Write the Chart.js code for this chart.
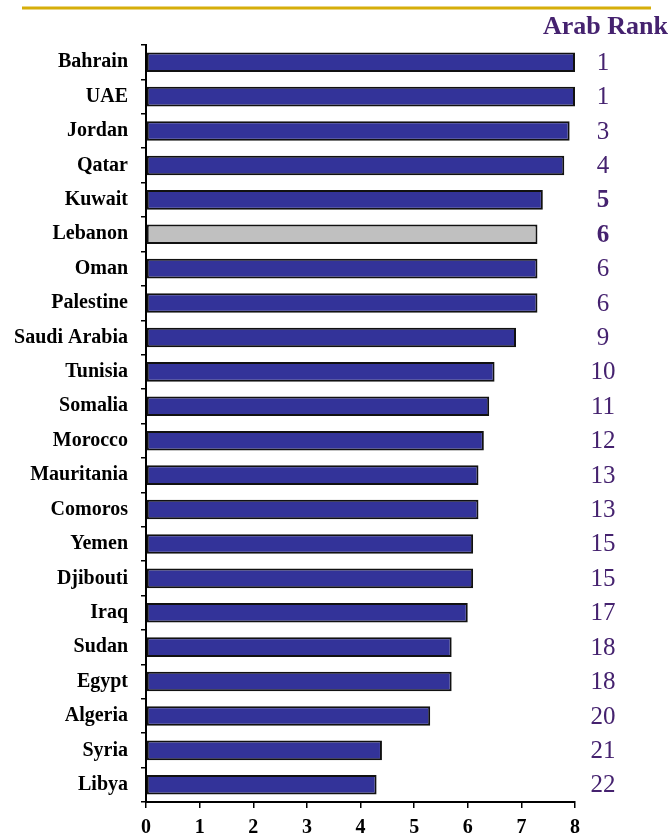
<!DOCTYPE html>
<html>
<head>
<meta charset="utf-8">
<title>Arab Rank</title>
<script src="https://cdn.jsdelivr.net/npm/chart.js@4/dist/chart.umd.min.js"></script>
<style>
    html, body { margin: 0; padding: 0; background: #fff; }
    #wrap { position: relative; width: 670px; height: 834px; }
</style>
</head>
<body>
<div id="wrap"><canvas id="rankChart"></canvas></div>
<script>
const countries = [
    "Bahrain", "UAE", "Jordan", "Qatar", "Kuwait", "Lebanon", "Oman", "Palestine",
    "Saudi Arabia", "Tunisia", "Somalia", "Morocco", "Mauritania", "Comoros",
    "Yemen", "Djibouti", "Iraq", "Sudan", "Egypt", "Algeria", "Syria", "Libya"
];
const scores = [
    8.0, 8.0, 7.9, 7.8, 7.4, 7.3, 7.3, 7.3,
    6.9, 6.5, 6.4, 6.3, 6.2, 6.2,
    6.1, 6.1, 6.0, 5.7, 5.7, 5.3, 4.4, 4.3
];
const arabRank = [
    1, 1, 3, 4, 5, 6, 6, 6,
    9, 10, 11, 12, 13, 13,
    15, 15, 17, 18, 18, 20, 21, 22
];
const boldRows = ["Kuwait", "Lebanon"];
const highlight = "Lebanon";

const serif = "'Liberation Serif', 'Times New Roman', serif";
const purple = "#45226F";

const barFill = countries.map(c => c === highlight ? "#C0C0C0" : "#333399");

// rank column, header and the gold rule along the top
const rankColumn = {
    id: "rankColumn",
    afterDraw(chart) {
        const ctx = chart.ctx;
        const y = chart.scales.y;
        ctx.save();

        ctx.strokeStyle = "#D6AE0A";
        ctx.lineWidth = 3;
        ctx.beginPath();
        ctx.moveTo(22, 8);
        ctx.lineTo(651, 8);
        ctx.stroke();

        ctx.fillStyle = purple;
        ctx.font = "bold 26px " + serif;
        ctx.textAlign = "right";
        ctx.textBaseline = "alphabetic";
        ctx.fillText("Arab Rank", 668, 34);

        ctx.textAlign = "center";
        ctx.textBaseline = "middle";
        countries.forEach((c, i) => {
            const bold = boldRows.includes(c) ? "bold " : "";
            ctx.font = bold + "25px " + serif;
            ctx.fillText(String(arabRank[i]), 603, y.getPixelForValue(i) + 1);
        });
        ctx.restore();
    }
};

new Chart(document.getElementById("rankChart"), {
    type: "bar",
    data: {
        labels: countries,
        datasets: [{
            data: scores,
            backgroundColor: barFill,
            borderColor: "#111111",
            borderWidth: 2,
            borderSkipped: false,
            barPercentage: 0.57,
            categoryPercentage: 1
        }]
    },
    options: {
        indexAxis: "y",
        responsive: true,
        maintainAspectRatio: false,
        animation: false,
        layout: { padding: { top: 45, right: 95, bottom: 0, left: 0 } },
        scales: {
            x: {
                min: 0,
                max: 8,
                ticks: {
                    stepSize: 1,
                    color: "#000",
                    padding: 8,
                    font: { family: serif, size: 20, weight: "bold" }
                },
                grid: {
                    drawOnChartArea: false,
                    color: "#000",
                    lineWidth: 1.5,
                    tickLength: 6
                },
                border: { color: "#000", width: 2 },
                afterFit: scale => { scale.height = 32; }
            },
            y: {
                ticks: {
                    color: "#000",
                    padding: 13,
                    font: { family: serif, size: 20, weight: "bold" }
                },
                grid: {
                    drawOnChartArea: false,
                    color: "#000",
                    lineWidth: 1.5,
                    tickLength: 5
                },
                border: { color: "#000", width: 2 },
                afterFit: scale => { scale.width = 146; }
            }
        },
        plugins: {
            legend: { display: false },
            tooltip: { enabled: false }
        }
    },
    plugins: [rankColumn]
});
</script>
</body>
</html>
